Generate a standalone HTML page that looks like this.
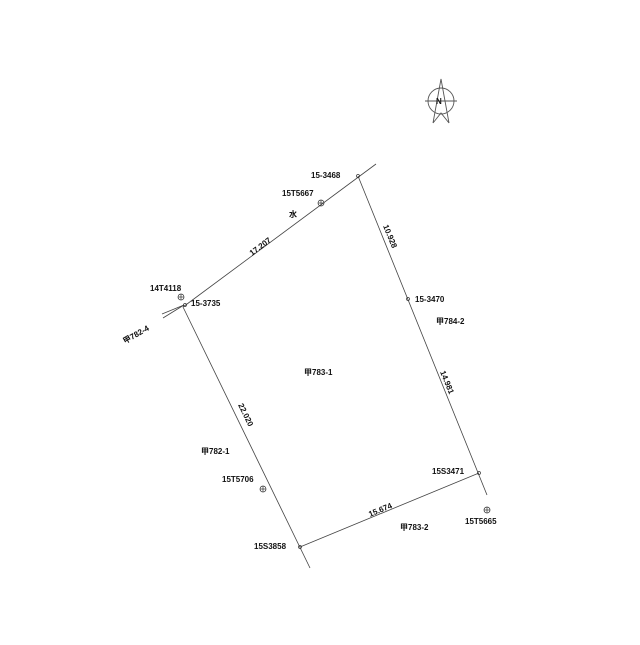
<!DOCTYPE html>
<html><head><meta charset="utf-8"><style>
html,body{margin:0;padding:0;background:#fff;}
svg text{font-family:"Liberation Sans","Noto Sans CJK JP",sans-serif;font-size:8px;fill:#111;font-weight:bold;}
</style></head><body>
<svg width="640" height="640" viewBox="0 0 640 640" xmlns="http://www.w3.org/2000/svg">
<rect width="640" height="640" fill="#fff"/>
<g stroke="#444" stroke-width="0.8" fill="none">
<line x1="376" y1="164" x2="183" y2="307"/>
<line x1="358" y1="176" x2="487" y2="495"/>
<line x1="479" y1="473" x2="300" y2="547"/>
<line x1="183" y1="307" x2="310" y2="568"/>
<line x1="184" y1="305" x2="162" y2="314"/>
<line x1="184" y1="305" x2="163" y2="318"/>
</g>
<g stroke="#333" stroke-width="0.7" fill="none">
<circle cx="321" cy="203" r="3"/><line x1="318" y1="203" x2="324" y2="203"/><line x1="321" y1="200" x2="321" y2="206"/>
<circle cx="181" cy="297" r="3"/><line x1="178" y1="297" x2="184" y2="297"/><line x1="181" y1="294" x2="181" y2="300"/>
<circle cx="263" cy="489" r="3"/><line x1="260" y1="489" x2="266" y2="489"/><line x1="263" y1="486" x2="263" y2="492"/>
<circle cx="487" cy="510" r="3"/><line x1="484" y1="510" x2="490" y2="510"/><line x1="487" y1="507" x2="487" y2="513"/>
<circle cx="358" cy="176" r="1.5"/><circle cx="408" cy="299" r="1.5"/><circle cx="479" cy="473" r="1.5"/><circle cx="300" cy="547" r="1.5"/><circle cx="185" cy="305" r="1.5"/>
</g>
<g stroke="#555" stroke-width="0.9" fill="none">
<circle cx="441" cy="101" r="13"/>
<line x1="425" y1="101" x2="457" y2="101"/>
<polyline points="433,123 441,79 449,123 441,113 433,123"/>
</g>
<text x="436" y="104" font-size="7px">N</text>
<text x="311" y="178">15-3468</text>
<text x="282" y="196">15T5667</text>
<text x="150" y="291">14T4118</text>
<text x="191" y="306">15-3735</text>
<text x="415" y="302">15-3470</text>
<text x="436" y="324">甲784-2</text>
<text x="304" y="375" font-size="10px">甲783-1</text>
<text x="201" y="454">甲782-1</text>
<text x="222" y="482">15T5706</text>
<text x="432" y="474">15S3471</text>
<text x="465" y="524">15T5665</text>
<text x="400" y="530">甲783-2</text>
<text x="254" y="549">15S3858</text>
<text x="289" y="217" font-size="9px">水</text>
<text transform="translate(252,256) rotate(-36.8)">17.207</text>
<text transform="translate(383,226) rotate(67.8)">10.928</text>
<text transform="translate(440,372) rotate(67.8)">14.981</text>
<text transform="translate(238,405) rotate(64)">22.020</text>
<text transform="translate(370,517) rotate(-22.5)">15.674</text>
<text transform="translate(125,344) rotate(-30)">甲782-4</text>
</svg>
</body></html>
